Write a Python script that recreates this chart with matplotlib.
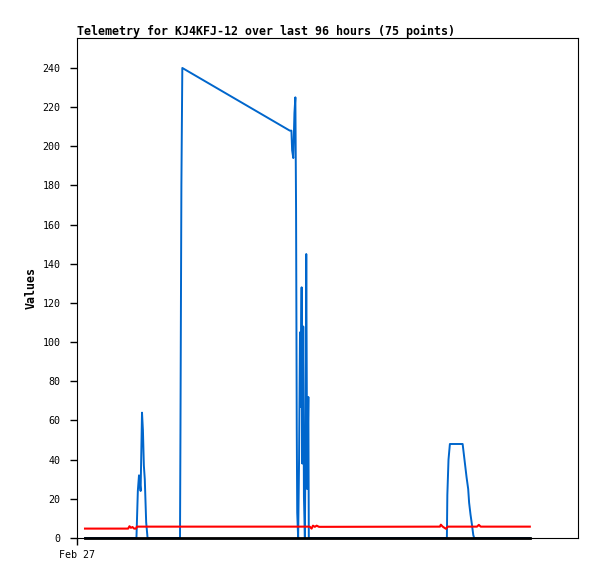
import matplotlib
matplotlib.use("Agg")
import matplotlib.pyplot as plt

# Hours since first sample
blue_t = [0.0, 11.1, 11.2, 11.4, 11.65, 12.0, 12.3, 12.5, 12.7, 12.9, 13.2, 13.5,
          20.5, 20.6, 20.8, 21.0, 44.2, 44.55, 44.7, 44.95, 45.2, 45.4, 45.55, 45.7,
          45.8, 46.0, 46.2, 46.4, 46.5, 46.75, 46.9, 47.1, 47.25, 47.45, 47.6, 47.75,
          47.95, 48.2, 48.3, 78.1, 78.2, 78.45, 78.75, 81.5, 81.6, 82.0, 82.35, 82.7,
          82.9, 83.2, 83.5, 83.8, 84.0, 96.0]
blue_v = [0, 0, 8, 24, 32, 24, 64, 55, 37, 30, 8, 0,
          0, 55, 180, 240, 208, 208, 198, 194, 217, 225, 168, 56,
          13, 0, 40, 105, 67, 128, 38, 108, 21, 0, 52, 145,
          25, 72, 0, 0, 22, 40, 48, 48, 46, 38, 31, 25,
          18, 12, 7, 1.5, 0, 0]

red_t = [0.0, 9.3, 9.6, 9.9, 10.25, 10.6, 11.0, 11.2, 48.5, 48.9, 49.2, 49.6,
         50.0, 50.5, 76.6, 76.8, 77.2, 77.9, 78.3, 84.6, 85.0, 85.4, 96.0]
red_v = [4.8, 4.8, 6.0, 5.2, 5.6, 4.8, 4.8, 5.8, 5.8, 4.8, 6.3, 5.7,
         6.3, 5.7, 5.8, 6.8, 5.8, 4.7, 5.8, 5.8, 6.7, 5.8, 5.8]

black_t = [0.0, 96.0]
black_v = [0, 0]

y_ticks = list(range(0, 241, 20))
x_tick_pos = [-1.73]
x_tick_labels = ["Feb 27"]
title = "Telemetry for KJ4KFJ-12 over last 96 hours (75 points)"

fig = plt.figure(figsize=(5.97, 5.79), dpi=100)
ax = fig.add_axes([77/597, 1-538/579, (578-77)/597, (538-38)/579])

ax.plot(blue_t, blue_v, color="#0066CC", lw=1.4, zorder=2)
ax.plot(red_t, red_v, color="#FF0000", lw=1.5, zorder=3)
ax.plot(black_t, black_v, color="black", lw=2.0, zorder=4, clip_on=False)

ax.set_xlim(-1.73, 106.4)
ax.set_ylim(0, 255.3)
ax.set_yticks(y_ticks)
ax.set_yticklabels([str(v) for v in y_ticks], family="DejaVu Sans Mono", fontsize=7.2)
ax.set_xticks(x_tick_pos)
ax.set_xticklabels(x_tick_labels, family="DejaVu Sans Mono", fontsize=7.2)
ax.tick_params(axis="y", direction="out", length=5, width=1, pad=7)
ax.tick_params(axis="x", direction="out", length=5, width=1, pad=4)
for s in ax.spines.values():
    s.set_linewidth(0.8)
    s.set_color("black")

ax.set_ylabel("Values", family="DejaVu Sans Mono", fontweight="bold", fontsize=8.4, labelpad=3)
fig.text(77/597, 1-31/579, title, family="DejaVu Sans Mono", fontweight="bold",
         fontsize=8.4, ha="left", va="center")

fig.savefig("out.png", dpi=100)
